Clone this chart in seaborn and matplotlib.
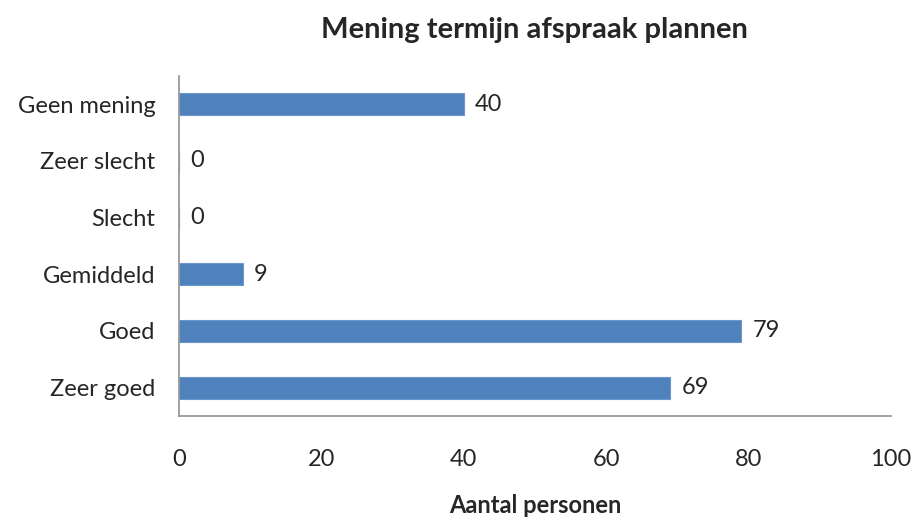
import matplotlib
matplotlib.use("Agg")
import matplotlib.pyplot as plt
import seaborn as sns
import pandas as pd

# data ----------------------------------------------------------------
categories = ['Geen mening', 'Zeer slecht', 'Slecht', 'Gemiddeld', 'Goed', 'Zeer goed']
aantal = [40, 0, 0, 9, 79, 69]
xticks = [0, 20, 40, 60, 80, 100]

df = pd.DataFrame({'categorie': categories, 'aantal': aantal})

sns.set_style('white')
plt.rcParams['font.family'] = ['Lato', 'DejaVu Sans']

fig = plt.figure(figsize=(9.15, 5.22), dpi=100)
ax = fig.add_axes([0.1956, 0.203, 0.778, 0.652])

sns.barplot(data=df, x='aantal', y='categorie', order=categories, orient='h',
            color='#4F81BD', saturation=1, width=0.39, edgecolor='#6C96CC',
            linewidth=0.8, ax=ax)

# value labels next to the bars
for i, v in enumerate(aantal):
    ax.annotate(str(v), (v, i), xytext=(8, 0), textcoords='offset points',
                va='center', ha='left', fontsize=17)

ax.set_xlim(0, 100)
ax.set_xticks(xticks)
ax.tick_params(axis='x', length=0, pad=24, labelsize=17)
ax.tick_params(axis='y', length=0, pad=17, labelsize=17)
ax.set_ylabel('')
ax.set_xlabel('Aantal personen', fontsize=17, fontweight='bold', labelpad=17)
ax.set_title('Mening termijn afspraak plannen', fontsize=21, fontweight='bold', pad=27)

for s in ['top', 'right']:
    ax.spines[s].set_visible(False)
for s in ['left', 'bottom']:
    ax.spines[s].set_color('#9A9A9A')
    ax.spines[s].set_linewidth(1.3)

fig.savefig('out.png', dpi=100)
